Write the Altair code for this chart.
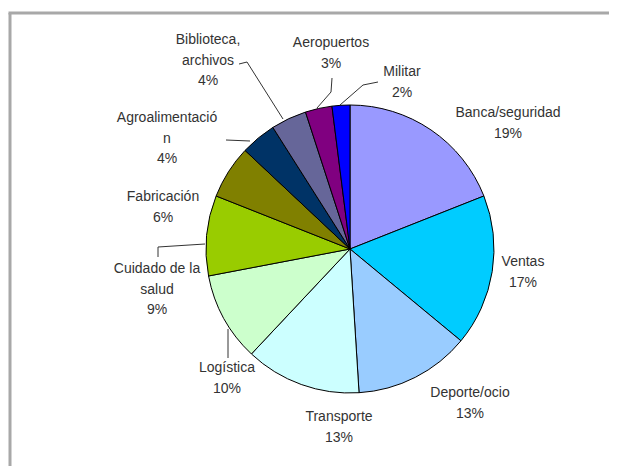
import altair as alt
import pandas as pd

# ---- data ----
categories = ["Banca/seguridad", "Ventas", "Deporte/ocio", "Transporte", "Logística",
              "Cuidado de la salud", "Fabricación", "Agroalimentación",
              "Biblioteca, archivos", "Aeropuertos", "Militar"]
values = [19, 17, 13, 13, 10, 9, 6, 4, 4, 3, 2]
label_text = [["Banca/seguridad"], ["Ventas"], ["Deporte/ocio"], ["Transporte"], ["Logística"],
              ["Cuidado de la", "salud"], ["Fabricación"], ["Agroalimentació", "n"],
              ["Biblioteca,", "archivos"], ["Aeropuertos"], ["Militar"]]
colors = ["#9999FF", "#00CCFF", "#99CCFF", "#CCFFFF", "#CCFFCC", "#99CC00",
          "#808000", "#003366", "#666699", "#800080", "#0000FF"]

# ---- layout (page pixels) ----
W, H = 601, 458
OX, OY = 8, 8
CX, CY = 350, 249
R = 144
LH = 20.5
label_pos = [(508, 113), (523, 262), (470, 393), (339, 417), (227, 368), (157, 269),
             (163, 197), (167, 118), (208, 40), (331, 43), (402, 72)]
leaders = {
    "Biblioteca, archivos": [(239, 64), (247, 62), (283, 119)],
    "Aeropuertos": [(332, 78), (331, 92), (317, 108)],
    "Militar": [(378, 82), (363, 85), (340, 105)],
    "Agroalimentación": [(226, 140), (250, 141)],
    "Cuidado de la salud": [(158, 257), (158, 247), (205, 244)],
    "Logística": [(228, 329), (228, 358)],
}

df = pd.DataFrame({"category": categories, "value": values, "idx": list(range(len(values)))})

rows = []
for i, (cat, v) in enumerate(zip(categories, values)):
    lines = label_text[i] + [f"{v}%"]
    x0, y0 = label_pos[i]
    for j, t in enumerate(lines):
        rows.append({"t": t, "x": x0 - CX, "y": y0 + j * LH - CY})
lab = pd.DataFrame(rows)

lrows = []
for cat, pts in leaders.items():
    for k, (px, py) in enumerate(pts):
        lrows.append({"id": cat, "k": k, "x": px - CX, "y": py - CY})
ldf = pd.DataFrame(lrows)

xs = alt.Scale(domain=[OX - CX, OX + W - CX], range=[0, W])
ys = alt.Scale(domain=[OY - CY, OY + H - CY], range=[0, H])

pie = alt.Chart(df).mark_arc(outerRadius=R, stroke="black", strokeWidth=1).encode(
    theta=alt.Theta("value:Q", stack=True),
    color=alt.Color("category:N", scale=alt.Scale(domain=categories, range=colors), legend=None),
    order=alt.Order("idx:Q"),
    x=alt.value(CX - OX),
    y=alt.value(CY - OY),
)

labels = alt.Chart(lab).mark_text(font="Liberation Sans", fontSize=14, color="#333333",
                                  baseline="middle", align="center").encode(
    x=alt.X("x:Q", scale=xs, axis=None),
    y=alt.Y("y:Q", scale=ys, axis=None),
    text="t:N",
)

lines = alt.Chart(ldf).mark_line(color="#333333", strokeWidth=1).encode(
    x=alt.X("x:Q", scale=xs, axis=None),
    y=alt.Y("y:Q", scale=ys, axis=None),
    detail="id:N",
    order="k:Q",
)

one = pd.DataFrame({"a": [0]})
frame_left = alt.Chart(one).mark_rule(color="#a8a8a8", strokeWidth=3).encode(
    x=alt.value(10 - OX), y=alt.value(13 - OY), y2=alt.value(H))
frame_top = alt.Chart(one).mark_rule(color="#a8a8a8", strokeWidth=3).encode(
    x=alt.value(10 - OX - 1.5), x2=alt.value(W), y=alt.value(13 - OY))

chart = alt.layer(frame_left, frame_top, pie, lines, labels).properties(
    width=W, height=H, padding=0, autosize=alt.AutoSizeParams(type="none"),
    background="white",
).configure_view(stroke=None)

chart.save("out.html", embed_options={"renderer": "svg", "actions": False})
